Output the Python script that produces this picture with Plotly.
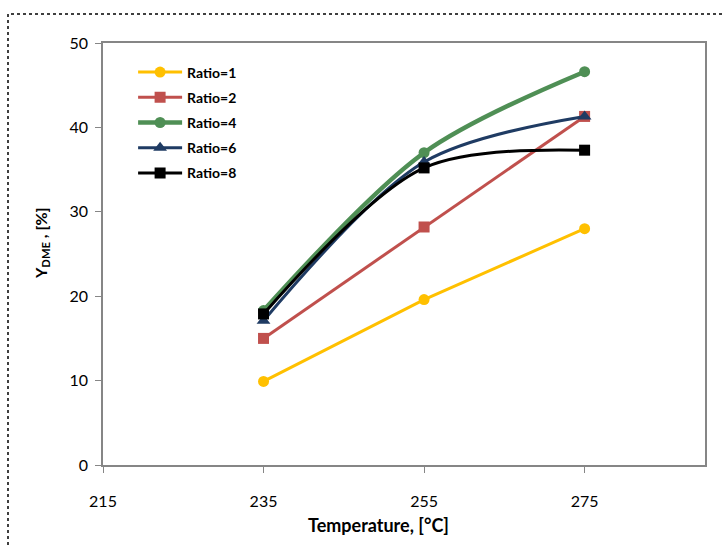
import plotly.graph_objects as go

# Reaction temperature (°C) and DME yield (%) per feed ratio
temperature = [235, 255, 275]
ratio_1 = [9.9, 19.6, 28.0]
ratio_2 = [15.0, 28.2, 41.3]
ratio_4 = [18.3, 37.0, 46.6]
ratio_6 = [17.1, 35.9, 41.3]
ratio_8 = [17.9, 35.2, 37.3]

x_ticks = [215, 235, 255, 275]
y_ticks = [0, 10, 20, 30, 40, 50]

FONT = "Lato, Carlito, Calibri, sans-serif"
AXIS_GREY = "#868686"

series = [
    ("Ratio=1", ratio_1, "#FFC000", "circle", 11, 3, "linear"),
    ("Ratio=2", ratio_2, "#C0504D", "square", 11, 3, "linear"),
    ("Ratio=4", ratio_4, "#4F8F55", "circle", 11, 4.5, "spline"),
    ("Ratio=6", ratio_6, "#1F3B63", "triangle-up", 12, 3, "spline"),
    ("Ratio=8", ratio_8, "#000000", "square", 11, 3, "spline"),
]

fig = go.Figure()
for name, vals, color, symbol, msize, lw, shape in series:
    fig.add_trace(go.Scatter(
        x=temperature, y=vals, name=name, mode="lines+markers",
        legendgroup=name,
        line=dict(color=color, width=lw, shape=shape, smoothing=0.9),
        marker=dict(color=color, symbol=symbol, size=msize),
    ))

fig.update_layout(
    width=724, height=548,
    margin=dict(l=103, r=19, t=43, b=83),
    paper_bgcolor="white", plot_bgcolor="white",
    font=dict(family=FONT, size=16, color="#000000"),
    showlegend=True,
    legend=dict(
        x=0.05, y=0.968, xanchor="left", yanchor="top",
        bgcolor="rgba(0,0,0,0)", tracegroupgap=4,
        font=dict(family=FONT, size=14, color="#000000", weight="bold"),
        itemwidth=44,
    ),
    xaxis=dict(
        range=[215, 290], tickvals=x_ticks, ticktext=[str(v) for v in x_ticks],
        showgrid=False, zeroline=False, showline=True, linecolor=AXIS_GREY,
        linewidth=1.5, mirror=True, ticks="outside", ticklen=6,
        tickcolor=AXIS_GREY, tickwidth=1.2, ticklabelstandoff=15,
        tickfont=dict(family=FONT, size=16),
    ),
    yaxis=dict(
        range=[0, 50], tickvals=y_ticks,
        showgrid=False, zeroline=False, showline=True, linecolor=AXIS_GREY,
        linewidth=1.5, mirror=True, ticks="outside", ticklen=6,
        tickcolor=AXIS_GREY, tickwidth=1.2, ticklabelstandoff=4,
        tickfont=dict(family=FONT, size=16),
    ),
)

# Axis titles
fig.add_annotation(
    text="<b>Temperature, [°C]</b>", xref="paper", yref="paper",
    x=(378 - 103) / 602, y=(465 - 525) / 422, showarrow=False,
    xanchor="center", yanchor="middle",
    font=dict(family=FONT, size=18),
)
fig.add_annotation(
    text="<b>Y<sub>DME</sub> , [%]</b>", xref="paper", yref="paper",
    x=(41 - 103) / 602, y=(465 - 243) / 422, showarrow=False,
    textangle=-90, xanchor="center", yanchor="middle",
    font=dict(family=FONT, size=16),
)

# Dotted frame around the chart
fig.add_shape(
    type="rect", xref="paper", yref="paper", layer="below",
    x0=(8 - 103) / 602, x1=(735 - 103) / 602,
    y0=(465 - 570) / 422, y1=(465 - 14) / 422,
    line=dict(color="#000000", width=1.5, dash="dot"),
)

fig.write_html("out.html")
